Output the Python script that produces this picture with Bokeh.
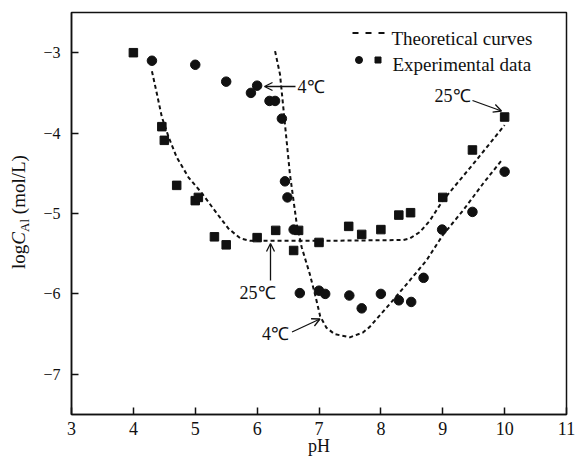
import math
from bokeh.plotting import figure
from bokeh.models import Label, Arrow, OpenHead, FixedTicker, Range1d, Div
from bokeh.layouts import row
from bokeh.embed import file_html
from bokeh.resources import INLINE

# ---------------- data ----------------
x_ticks = [3, 4, 5, 6, 7, 8, 9, 10, 11]
y_ticks = [-7, -6, -5, -4, -3]
x_tick_labels = ["3", "4", "5", "6", "7", "8", "9", "10", "11"]
y_tick_labels = ["\u22127", "\u22126", "\u22125", "\u22124", "\u22123"]

# 25 C experimental data (squares)
ph_25 = [4.0, 4.46, 4.5, 4.7, 5.0, 5.05, 5.31, 5.5, 6.0, 6.3, 6.59, 6.67, 7.0,
         7.48, 7.69, 8.0, 8.29, 8.48, 9.0, 9.48, 10.0]
log_25 = [-3.0, -3.92, -4.09, -4.65, -4.84, -4.8, -5.29, -5.39, -5.3, -5.21, -5.46, -5.21, -5.36,
          -5.16, -5.26, -5.2, -5.02, -4.99, -4.8, -4.21, -3.8]

# 4 C experimental data (circles)
ph_4 = [4.3, 5.0, 5.5, 5.9, 6.0, 6.2, 6.29, 6.4, 6.45, 6.49, 6.59, 6.69, 7.0,
        7.1, 7.49, 7.69, 8.0, 8.29, 8.49, 8.69, 8.99, 9.48, 10.0]
log_4 = [-3.1, -3.15, -3.36, -3.5, -3.41, -3.6, -3.6, -3.82, -4.6, -4.8, -5.2, -5.99, -5.96,
         -6.0, -6.02, -6.18, -6.0, -6.08, -6.1, -5.8, -5.2, -4.98, -4.48]

# theoretical curves
curve25_x = [4.3, 4.38, 4.46, 4.57, 4.7, 4.89, 5.11, 5.35, 5.54, 5.73, 5.89, 7.0, 8.36,
             8.47, 8.63, 8.79, 9.0, 9.27, 9.54, 10.0]
curve25_y = [-3.23, -3.51, -3.8, -4.05, -4.3, -4.55, -4.75, -5.0, -5.19, -5.31, -5.34, -5.34, -5.33,
             -5.31, -5.23, -5.09, -4.84, -4.59, -4.34, -3.9]
curve4_x = [6.29, 6.37, 6.45, 6.53, 6.64, 6.72, 6.85, 6.94, 7.02, 7.12, 7.25, 7.5, 7.71, 7.82,
            8.15, 8.47, 8.74, 9.0, 9.33, 9.65, 9.95]
curve4_y = [-2.98, -3.27, -3.89, -4.51, -5.13, -5.42, -5.75, -6.02, -6.28, -6.42, -6.5, -6.54, -6.48, -6.41,
            -6.12, -5.83, -5.58, -5.27, -4.96, -4.63, -4.34]

x_title = "pH"
y_title_html = "log<i>C</i><sub style='font-size:13px;vertical-align:-4px'>Al</sub>&nbsp;(mol/L)"

# ---------------- layout ----------------
W, H = 575, 459
DW = 40                      # width of the y-title strip
L, R, T, B = 71, 9, 12, 45   # frame borders measured from the page
X0, X1, Y0, Y1 = 3, 11, -7.5, -2.5
FW, FH = W - L - R, H - T - B
FONT = "Liberation Serif"
INK = "#111111"


def px2x(px):
    return X0 + (px - L) / FW * (X1 - X0)


def py2y(py):
    return Y1 - (py - T) / FH * (Y1 - Y0)


p = figure(width=W - DW, height=H, x_range=Range1d(X0, X1), y_range=Range1d(Y0, Y1),
           output_backend="svg", toolbar_location=None,
           min_border_left=L - DW, min_border_right=R, min_border_top=T, min_border_bottom=B)
p.background_fill_color = "white"
p.border_fill_color = "white"
p.grid.visible = False
p.outline_line_color = INK
p.outline_line_width = 1.5

for ax in (p.xaxis[0], p.yaxis[0]):
    ax.axis_line_color = INK
    ax.axis_line_width = 1.5
    ax.major_tick_line_color = INK
    ax.major_tick_line_width = 1.5
    ax.major_tick_in = 7
    ax.major_tick_out = 0
    ax.minor_tick_line_color = None
    ax.major_label_text_font = FONT
    ax.major_label_text_color = INK

p.xaxis.ticker = FixedTicker(ticks=x_ticks)
p.yaxis.ticker = FixedTicker(ticks=y_ticks)
p.xaxis.major_label_overrides = dict(zip(x_ticks, x_tick_labels))
p.yaxis.major_label_overrides = dict(zip(y_ticks, y_tick_labels))
p.xaxis.major_label_text_font_size = "18px"
p.yaxis.major_label_text_font_size = "16px"
p.xaxis.major_label_standoff = 7
p.yaxis.major_label_standoff = 11

p.xaxis.axis_label = x_title
p.xaxis.axis_label_text_font = FONT
p.xaxis.axis_label_text_font_size = "18px"
p.xaxis.axis_label_text_font_style = "normal"
p.xaxis.axis_label_text_color = INK
p.xaxis.axis_label_standoff = -2

# curves
p.line(curve25_x, curve25_y, line_color=INK, line_width=2, line_dash="4 3")
p.line(curve4_x, curve4_y, line_color=INK, line_width=2, line_dash="4 3")

# points
p.scatter(ph_25, log_25, marker="square", size=8.5, fill_color=INK, line_color=INK)
p.scatter(ph_4, log_4, marker="circle", size=9.5, fill_color=INK, line_color=INK)


def label(px, py, text, size=18, align="left", baseline="alphabetic"):
    p.add_layout(Label(x=px2x(px), y=py2y(py), text=text, text_font=FONT,
                       text_font_size=f"{size}px", text_color=INK,
                       text_align=align, text_baseline=baseline))


def arrow(px0, py0, px1, py1):
    p.add_layout(Arrow(end=OpenHead(size=8, line_width=1.3, line_color=INK),
                       x_start=px2x(px0), y_start=py2y(py0), x_end=px2x(px1), y_end=py2y(py1),
                       line_width=1.3, line_color=INK))


# legend (manual)
p.line([px2x(352), px2x(387)], [py2y(32.5)] * 2, line_color=INK, line_width=2, line_dash="6 7")
label(391, 38, "Theoretical curves", size=19)
p.scatter([px2x(358.5)], [py2y(59.5)], marker="circle", size=7, fill_color=INK, line_color=INK)
p.scatter([px2x(377.5)], [py2y(59.5)], marker="square", size=6, fill_color=INK, line_color=INK)
label(392, 64, "Experimental data", size=19)

# annotations
arrow(295, 86, 264, 86)
label(297, 86, "4\u2103", size=18, baseline="middle")
arrow(472, 100, 501, 110.5)
label(470, 95, "25\u2103", size=18, align="right", baseline="middle")
arrow(270, 280, 270, 243)
label(257, 292, "25\u2103", size=18, align="center", baseline="middle")
arrow(291.5, 331.5, 319.5, 318.5)
label(275, 333, "4\u2103", size=18, align="center", baseline="middle")

# y-axis title (rotated HTML text with italic C and subscript Al)
ydiv = Div(
    text=(f"<div style='position:relative;width:{DW}px;height:{H}px;'>"
          f"<div style='position:absolute;left:20px;top:212px;"
          f"transform:translate(-50%,-50%) rotate(-90deg);white-space:nowrap;"
          f"font-family:\"{FONT}\";font-size:19px;line-height:1;color:{INK};'>"
          f"{y_title_html}</div></div>"),
    width=DW, height=H, margin=(0, 0, 0, 0))

layout = row(ydiv, p, spacing=0)

open("out.html", "w").write(file_html(layout, INLINE))
